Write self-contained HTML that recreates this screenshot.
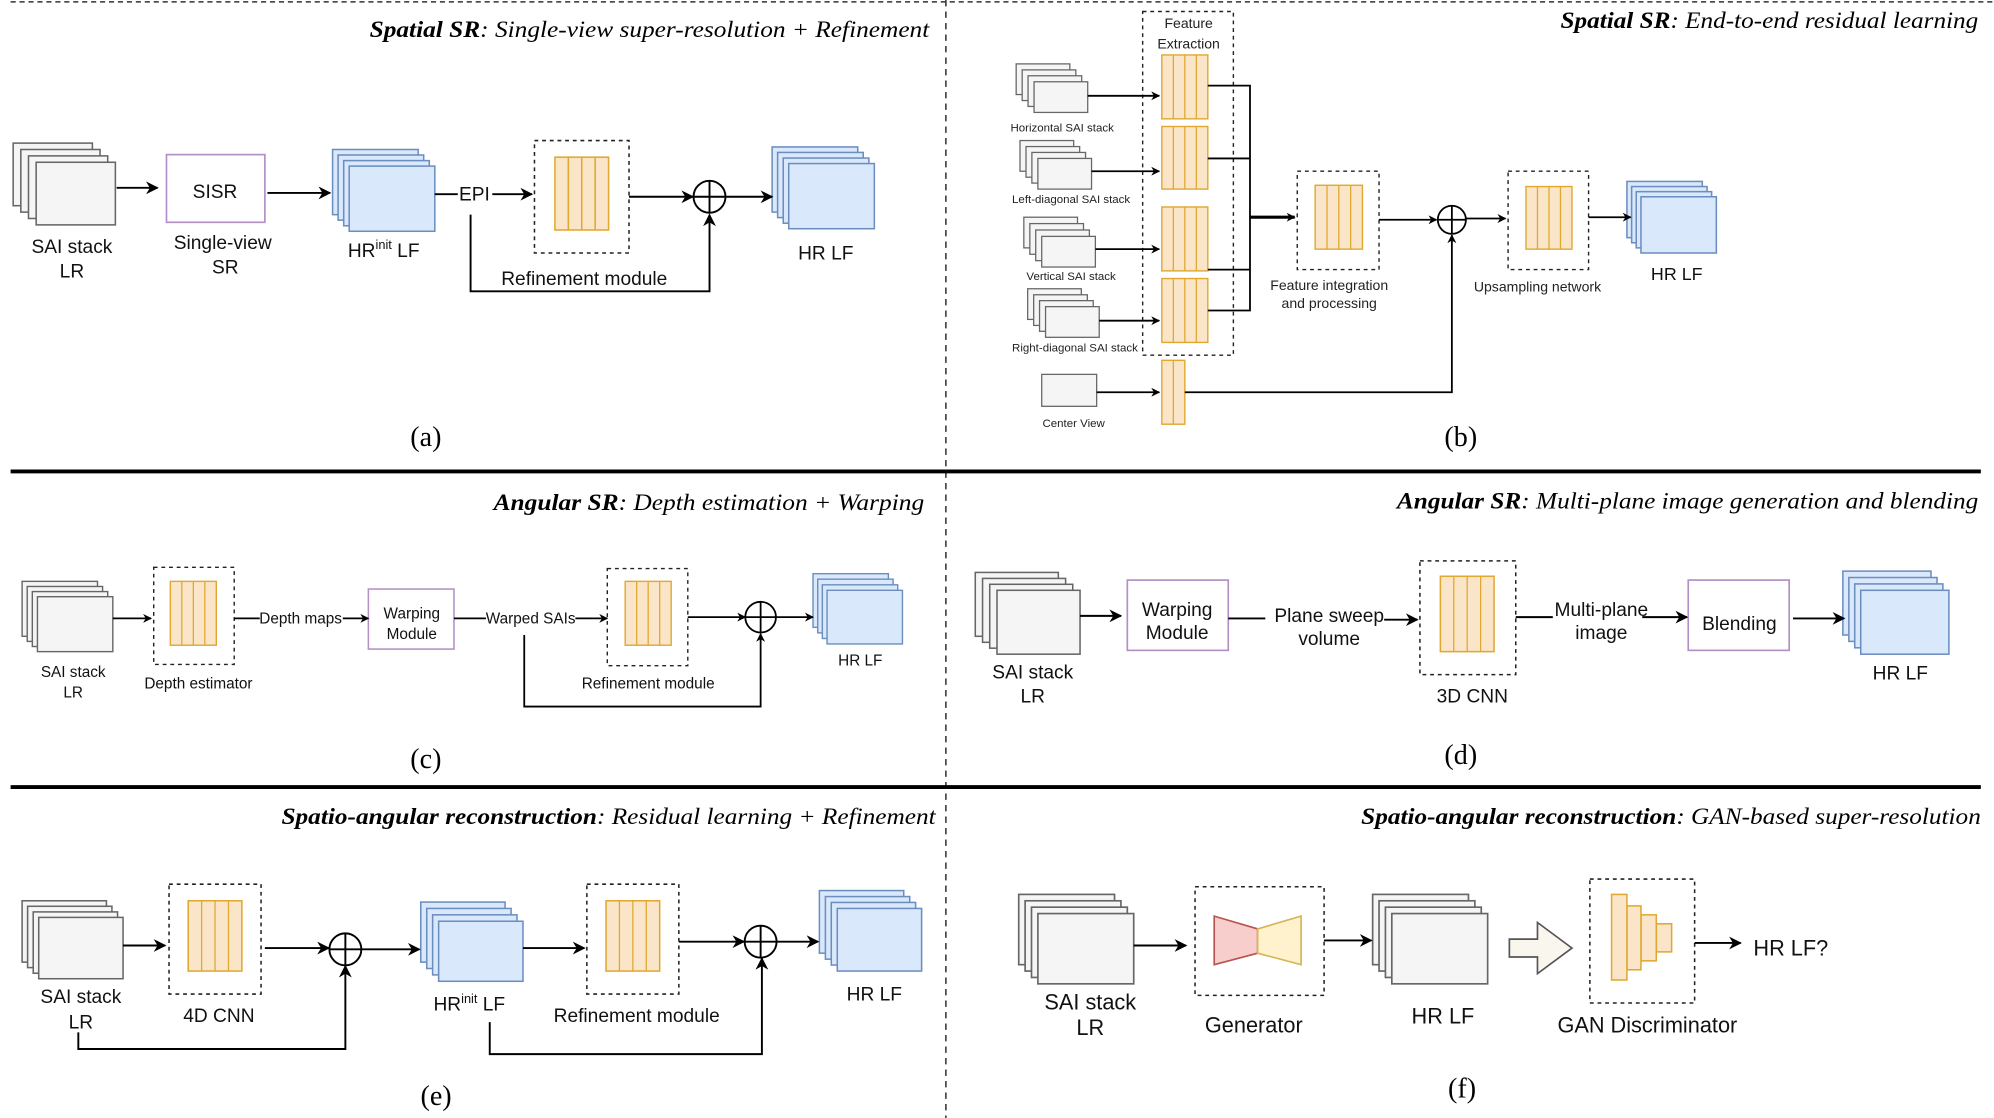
<!DOCTYPE html>
<html><head><meta charset="utf-8"><style>html,body{margin:0;padding:0;background:#fff}svg{display:block}</style></head>
<body>
<svg width="1994" height="1118" viewBox="0 0 1560 875" xmlns="http://www.w3.org/2000/svg" font-family="Liberation Sans, sans-serif">
<defs>
<marker id="ar" viewBox="0 0 10 10" refX="9" refY="5" markerWidth="7" markerHeight="7" orient="auto" markerUnits="userSpaceOnUse"><path d="M0,0 L10,5 L0,10 L3,5 z" fill="#000"/></marker>
<marker id="ar2" viewBox="0 0 10 10" refX="9" refY="5" markerWidth="10" markerHeight="10" orient="auto" markerUnits="userSpaceOnUse"><path d="M0,0 L10,5 L0,10 L3,5 z" fill="#000"/></marker>
</defs>
<rect width="1560" height="875" fill="#fff"/>
<!-- separators -->
<line x1="8" y1="1.5" x2="1560" y2="1.5" stroke="#333" stroke-width="1.2" stroke-dasharray="4,3"/>
<line x1="740" y1="0" x2="740" y2="875" stroke="#333" stroke-width="1.2" stroke-dasharray="5,4"/>
<line x1="8" y1="369" x2="1550" y2="369" stroke="#000" stroke-width="3"/>
<line x1="8" y1="616" x2="1550" y2="616" stroke="#000" stroke-width="3"/>

<g font-family="Liberation Serif, serif" font-style="italic" font-size="18" text-anchor="end">
<text x="727" y="29" textLength="438" lengthAdjust="spacingAndGlyphs"><tspan font-weight="bold">Spatial SR</tspan>: Single-view super-resolution + Refinement</text>
<text x="1548" y="22" textLength="327" lengthAdjust="spacingAndGlyphs"><tspan font-weight="bold">Spatial SR</tspan>: End-to-end residual learning</text>
<text x="723" y="399" textLength="337" lengthAdjust="spacingAndGlyphs"><tspan font-weight="bold">Angular SR</tspan>: Depth estimation + Warping</text>
<text x="1548" y="398" textLength="455" lengthAdjust="spacingAndGlyphs"><tspan font-weight="bold">Angular SR</tspan>: Multi-plane image generation and blending</text>
<text x="732" y="645" textLength="512" lengthAdjust="spacingAndGlyphs"><tspan font-weight="bold">Spatio-angular reconstruction</tspan>: Residual learning + Refinement</text>
<text x="1550" y="645" textLength="485" lengthAdjust="spacingAndGlyphs"><tspan font-weight="bold">Spatio-angular reconstruction</tspan>: GAN-based super-resolution</text>
</g>
<g font-family="Liberation Serif, serif" font-size="22" text-anchor="middle">
<text x="333" y="349">(a)</text><text x="1143" y="349">(b)</text>
<text x="333" y="601">(c)</text><text x="1143" y="598">(d)</text>
<text x="341" y="865">(e)</text><text x="1144" y="859">(f)</text>
</g>

<!-- ===== (a) ===== -->
<g fill="#f5f5f5" stroke="#666" stroke-width="1.2">
<rect x="10" y="112" width="62" height="49"/><rect x="16" y="117" width="62" height="49"/><rect x="22" y="122" width="62" height="49"/><rect x="28" y="127" width="62" height="49"/>
</g>
<g fill="#dae8fc" stroke="#6c8ebf" stroke-width="1.2">
<rect x="260" y="117" width="67" height="51"/><rect x="264.3" y="121.3" width="67" height="51"/><rect x="268.7" y="125.7" width="67" height="51"/><rect x="273" y="130" width="67" height="51"/>
<rect x="604" y="115" width="67" height="51"/><rect x="608.3" y="119.3" width="67" height="51"/><rect x="612.7" y="123.7" width="67" height="51"/><rect x="617" y="128" width="67" height="51"/>
</g>
<rect x="130" y="121" width="77" height="53" fill="#fff" stroke="#b28fc4" stroke-width="1.3"/>
<rect x="418" y="110" width="74" height="88" fill="none" stroke="#222" stroke-width="1.2" stroke-dasharray="3,3"/>
<g stroke="#e0a830" stroke-width="1.2"><rect x="434" y="123" width="42" height="57" fill="#fbe5c8"/><line x1="444.5" y1="123" x2="444.5" y2="180"/><line x1="455" y1="123" x2="455" y2="180"/><line x1="465.5" y1="123" x2="465.5" y2="180"/></g>
<g stroke="#000" stroke-width="1.5" fill="none">
<line x1="91" y1="147" x2="123" y2="147" marker-end="url(#ar2)"/>
<line x1="209" y1="151" x2="258" y2="151" marker-end="url(#ar2)"/>
<line x1="340" y1="152" x2="358" y2="152"/>
<line x1="385" y1="152" x2="416" y2="152" marker-end="url(#ar2)"/>
<line x1="492" y1="154" x2="542" y2="154" marker-end="url(#ar2)"/>
<line x1="568" y1="154" x2="604" y2="154" marker-end="url(#ar2)"/>
<polyline points="368,168 368,228 555,228 555,168" marker-end="url(#ar2)"/>
<circle cx="555" cy="154" r="12.5"/><line x1="542.5" y1="154" x2="567.5" y2="154"/><line x1="555" y1="141.5" x2="555" y2="166.5"/>
</g>
<g font-size="15" text-anchor="middle" fill="#111">
<text x="56" y="198">SAI stack</text><text x="56" y="217">LR</text>
<text x="168" y="155">SISR</text>
<text x="174" y="195">Single-view</text><text x="176" y="214">SR</text>
<text x="300" y="201">HR<tspan font-size="10" dy="-6">init</tspan><tspan dy="6"> LF</tspan></text>
<text x="371" y="157">EPI</text>
<text x="457" y="223">Refinement module</text>
<text x="646" y="203">HR LF</text>
</g>

<!-- ===== (b) ===== -->
<g fill="#f5f5f5" stroke="#666" stroke-width="1">
<rect x="795" y="50" width="42" height="24"/><rect x="799.7" y="54.7" width="42" height="24"/><rect x="804.3" y="59.3" width="42" height="24"/><rect x="809" y="64" width="42" height="24"/>
<rect x="798" y="110" width="42" height="24"/><rect x="802.7" y="114.7" width="42" height="24"/><rect x="807.3" y="119.3" width="42" height="24"/><rect x="812" y="124" width="42" height="24"/>
<rect x="801" y="170" width="42" height="24"/><rect x="805.7" y="175" width="42" height="24"/><rect x="810.3" y="180" width="42" height="24"/><rect x="815" y="185" width="42" height="24"/>
<rect x="804" y="226" width="42" height="24"/><rect x="808.7" y="230.7" width="42" height="24"/><rect x="813.3" y="235.3" width="42" height="24"/><rect x="818" y="240" width="42" height="24"/>
<rect x="815" y="293" width="43" height="25"/>
</g>
<g fill="#dae8fc" stroke="#6c8ebf" stroke-width="1.2">
<rect x="1273" y="142" width="59" height="44"/><rect x="1276.7" y="146" width="59" height="44"/><rect x="1280.3" y="150" width="59" height="44"/><rect x="1284" y="154" width="59" height="44"/>
</g>
<g fill="none" stroke="#222" stroke-width="1.1" stroke-dasharray="3,3">
<rect x="894" y="9" width="71" height="269"/>
<rect x="1015" y="134" width="64" height="77"/>
<rect x="1180" y="134" width="63" height="77"/>
</g>
<g stroke="#e0a830" stroke-width="1.1" fill="#fbe5c8">
<rect x="909" y="43" width="36" height="50"/><rect x="909" y="99" width="36" height="49"/><rect x="909" y="162" width="36" height="50"/><rect x="909" y="218" width="36" height="50"/>
<rect x="1029" y="145" width="37" height="50"/><rect x="1194" y="146" width="36" height="49"/>
<rect x="909" y="282" width="18" height="50"/>
</g>
<g stroke="#e0a830" stroke-width="1">
<path d="M918,43V93M927,43V93M936,43V93M918,99V148M927,99V148M936,99V148M918,162V212M927,162V212M936,162V212M918,218V268M927,218V268M936,218V268M1038.3,145V195M1047.5,145V195M1056.8,145V195M1203,146V195M1212,146V195M1221,146V195M918,282V332"/>
</g>
<g stroke="#000" stroke-width="1.4" fill="none">
<line x1="851" y1="75" x2="907" y2="75" marker-end="url(#ar)"/>
<line x1="854" y1="134" x2="907" y2="134" marker-end="url(#ar)"/>
<line x1="857" y1="195" x2="907" y2="195" marker-end="url(#ar)"/>
<line x1="860" y1="251" x2="907" y2="251" marker-end="url(#ar)"/>
<line x1="858" y1="307" x2="907" y2="307" marker-end="url(#ar)"/>
<polyline points="945,67 978,67 978,243 945,243"/>
<line x1="945" y1="124" x2="978" y2="124"/><line x1="945" y1="211" x2="978" y2="211"/>
<line x1="978" y1="170" x2="1013" y2="170" stroke-width="2.5" marker-end="url(#ar)"/>
<line x1="1079" y1="172" x2="1124" y2="172" marker-end="url(#ar)"/>
<line x1="1147" y1="171" x2="1178" y2="171" marker-end="url(#ar)"/>
<line x1="1243" y1="170" x2="1276" y2="170" marker-end="url(#ar)"/>
<polyline points="927,307 1136,307 1136,184" marker-end="url(#ar)"/>
<circle cx="1136" cy="172" r="11"/><line x1="1125" y1="172" x2="1147" y2="172"/><line x1="1136" y1="161" x2="1136" y2="183"/>
</g>
<g font-size="9" text-anchor="middle" fill="#222">
<text x="831" y="103">Horizontal SAI stack</text>
<text x="838" y="159">Left-diagonal SAI stack</text>
<text x="838" y="219">Vertical SAI stack</text>
<text x="841" y="275">Right-diagonal SAI stack</text>
<text x="840" y="334">Center View</text>
</g>
<g font-size="11" text-anchor="middle" fill="#222">
<text x="930" y="22">Feature</text><text x="930" y="38">Extraction</text>
<text x="1040" y="227">Feature integration</text><text x="1040" y="241">and processing</text>
<text x="1203" y="228">Upsampling network</text>
</g>
<text x="1312" y="219" font-size="14" text-anchor="middle" fill="#111">HR LF</text>

<!-- ===== (c) ===== -->
<g fill="#f5f5f5" stroke="#666" stroke-width="1.1">
<rect x="17" y="455" width="59" height="43"/><rect x="21" y="459" width="59" height="43"/><rect x="25" y="463" width="59" height="43"/><rect x="29" y="467" width="59" height="43"/>
</g>
<g fill="#dae8fc" stroke="#6c8ebf" stroke-width="1.1">
<rect x="636" y="449" width="59" height="42"/><rect x="639.7" y="453.3" width="59" height="42"/><rect x="643.3" y="457.7" width="59" height="42"/><rect x="647" y="462" width="59" height="42"/>
</g>
<rect x="288" y="461" width="67" height="47" fill="#fff" stroke="#b28fc4" stroke-width="1.2"/>
<g fill="none" stroke="#222" stroke-width="1.1" stroke-dasharray="3,3">
<rect x="120" y="444" width="63" height="76"/><rect x="475" y="445" width="63" height="76"/>
</g>
<g stroke="#e0a830" stroke-width="1.1" fill="#fbe5c8">
<rect x="133" y="455" width="36" height="50"/><rect x="489" y="455" width="36" height="50"/>
</g>
<path d="M142,455V505M151,455V505M160,455V505M498,455V505M507,455V505M516,455V505" stroke="#e0a830" stroke-width="1"/>
<g stroke="#000" stroke-width="1.4" fill="none">
<line x1="88" y1="484" x2="118" y2="484" marker-end="url(#ar)"/>
<line x1="183" y1="484" x2="203" y2="484"/>
<line x1="268" y1="484" x2="288" y2="484" marker-end="url(#ar)"/>
<line x1="355" y1="484" x2="380" y2="484"/>
<line x1="450" y1="484" x2="475" y2="484" marker-end="url(#ar)"/>
<line x1="538" y1="483" x2="583" y2="483" marker-end="url(#ar)"/>
<line x1="607" y1="483" x2="636" y2="483" marker-end="url(#ar)"/>
<polyline points="410,497 410,553 595,553 595,496" marker-end="url(#ar)"/>
<circle cx="595" cy="483" r="12"/><line x1="583" y1="483" x2="607" y2="483"/><line x1="595" y1="471" x2="595" y2="495"/>
</g>
<g font-size="12" text-anchor="middle" fill="#111">
<text x="57" y="530">SAI stack</text><text x="57" y="546">LR</text>
<text x="155" y="539">Depth estimator</text>
<text x="235" y="488">Depth maps</text>
<text x="322" y="484">Warping</text><text x="322" y="500">Module</text>
<text x="415" y="488">Warped SAIs</text>
<text x="507" y="539">Refinement module</text>
<text x="673" y="521">HR LF</text>
</g>

<!-- ===== (d) ===== -->
<g fill="#f5f5f5" stroke="#666" stroke-width="1.2">
<rect x="763" y="448" width="65" height="50"/><rect x="768.7" y="452.7" width="65" height="50"/><rect x="774.3" y="457.3" width="65" height="50"/><rect x="780" y="462" width="65" height="50"/>
</g>
<g fill="#dae8fc" stroke="#6c8ebf" stroke-width="1.2">
<rect x="1442" y="447" width="69" height="50"/><rect x="1446.7" y="452" width="69" height="50"/><rect x="1451.3" y="457" width="69" height="50"/><rect x="1456" y="462" width="69" height="50"/>
</g>
<g fill="#fff" stroke="#b28fc4" stroke-width="1.3">
<rect x="882" y="454" width="79" height="55"/><rect x="1321" y="454" width="79" height="55"/>
</g>
<rect x="1111" y="439" width="75" height="89" fill="none" stroke="#222" stroke-width="1.2" stroke-dasharray="3,3"/>
<rect x="1127" y="451" width="42" height="59" fill="#fbe5c8" stroke="#e0a830" stroke-width="1.2"/>
<path d="M1137.5,451V510M1148,451V510M1158.5,451V510" stroke="#e0a830" stroke-width="1"/>
<g stroke="#000" stroke-width="1.5" fill="none">
<line x1="845" y1="482" x2="877" y2="482" marker-end="url(#ar2)"/>
<line x1="961" y1="484" x2="990" y2="484"/>
<line x1="1083" y1="485" x2="1109" y2="485" marker-end="url(#ar2)"/>
<line x1="1186" y1="483" x2="1215" y2="483"/>
<line x1="1285" y1="483" x2="1320" y2="483" marker-end="url(#ar2)"/>
<line x1="1403" y1="484" x2="1443" y2="484" marker-end="url(#ar2)"/>
</g>
<g font-size="15" text-anchor="middle" fill="#111">
<text x="808" y="531">SAI stack</text><text x="808" y="550">LR</text>
<text x="921" y="482">Warping</text><text x="921" y="500">Module</text>
<text x="1040" y="487">Plane sweep</text><text x="1040" y="505">volume</text>
<text x="1152" y="550">3D CNN</text>
<text x="1253" y="482">Multi-plane</text><text x="1253" y="500">image</text>
<text x="1361" y="493">Blending</text>
<text x="1487" y="532">HR LF</text>
</g>

<!-- ===== (e) ===== -->
<g fill="#f5f5f5" stroke="#666" stroke-width="1.2">
<rect x="17" y="705" width="66" height="48"/><rect x="21.3" y="709.3" width="66" height="48"/><rect x="25.7" y="713.7" width="66" height="48"/><rect x="30" y="718" width="66" height="48"/>
</g>
<g fill="#dae8fc" stroke="#6c8ebf" stroke-width="1.2">
<rect x="329" y="706" width="66" height="47"/><rect x="333.7" y="711" width="66" height="47"/><rect x="338.3" y="716" width="66" height="47"/><rect x="343" y="721" width="66" height="47"/>
<rect x="641" y="697" width="66" height="49"/><rect x="645.7" y="701.7" width="66" height="49"/><rect x="650.3" y="706.3" width="66" height="49"/><rect x="655" y="711" width="66" height="49"/>
</g>
<g fill="none" stroke="#222" stroke-width="1.2" stroke-dasharray="3,3">
<rect x="132" y="692" width="72" height="86"/><rect x="459" y="692" width="72" height="86"/>
</g>
<g stroke="#e0a830" stroke-width="1.2" fill="#fbe5c8">
<rect x="147" y="705" width="42" height="55"/><rect x="474" y="705" width="42" height="55"/>
</g>
<path d="M157.5,705V760M168,705V760M178.5,705V760M484.5,705V760M495,705V760M505.5,705V760" stroke="#e0a830" stroke-width="1"/>
<g stroke="#000" stroke-width="1.5" fill="none">
<line x1="96" y1="740" x2="129" y2="740" marker-end="url(#ar2)"/>
<line x1="207" y1="742" x2="257" y2="742" marker-end="url(#ar2)"/>
<line x1="283" y1="743" x2="328" y2="743" marker-end="url(#ar2)"/>
<line x1="409" y1="742" x2="457" y2="742" marker-end="url(#ar2)"/>
<line x1="531" y1="737" x2="582" y2="737" marker-end="url(#ar2)"/>
<line x1="607" y1="737" x2="640" y2="737" marker-end="url(#ar2)"/>
<polyline points="61,808 61,821 270,821 270,756" marker-end="url(#ar2)"/>
<polyline points="383,800 383,825 596,825 596,750" marker-end="url(#ar2)"/>
<circle cx="270" cy="743" r="12.5"/><line x1="257.5" y1="743" x2="282.5" y2="743"/><line x1="270" y1="730.5" x2="270" y2="755.5"/>
<circle cx="595" cy="737" r="12.5"/><line x1="582.5" y1="737" x2="607.5" y2="737"/><line x1="595" y1="724.5" x2="595" y2="749.5"/>
</g>
<g font-size="15" text-anchor="middle" fill="#111">
<text x="63" y="785">SAI stack</text><text x="63" y="805">LR</text>
<text x="171" y="800">4D CNN</text>
<text x="367" y="791">HR<tspan font-size="10" dy="-6">init</tspan><tspan dy="6"> LF</tspan></text>
<text x="498" y="800">Refinement module</text>
<text x="684" y="783">HR LF</text>
</g>

<!-- ===== (f) ===== -->
<g fill="#f5f5f5" stroke="#666" stroke-width="1.3">
<rect x="797" y="700" width="75" height="55"/><rect x="802" y="705" width="75" height="55"/><rect x="807" y="710" width="75" height="55"/><rect x="812" y="715" width="75" height="55"/>
<rect x="1074" y="700" width="75" height="55"/><rect x="1079" y="705" width="75" height="55"/><rect x="1084" y="710" width="75" height="55"/><rect x="1089" y="715" width="75" height="55"/>
</g>
<g fill="none" stroke="#222" stroke-width="1.2" stroke-dasharray="3,3">
<rect x="935" y="694" width="101" height="85"/><rect x="1244" y="688" width="82" height="97"/>
</g>
<polygon points="950,717 984,727 984,746 950,755" fill="#f8cecc" stroke="#b85450" stroke-width="1.3"/>
<polygon points="984,727 1018,717 1018,755 984,746" fill="#fff2cc" stroke="#d6b656" stroke-width="1.3"/>
<polygon points="1181,735 1203,735 1203,722 1230,742 1203,762 1203,749 1181,749" fill="#f9f7ed" stroke="#555" stroke-width="1.3"/>
<g fill="#fbe5c8" stroke="#e0a830" stroke-width="1.2">
<rect x="1296" y="723" width="12" height="22"/>
<rect x="1284" y="716" width="12" height="36"/>
<rect x="1273" y="709" width="11" height="50"/>
<rect x="1261" y="700" width="12" height="67"/>
</g>
<g stroke="#000" stroke-width="1.5" fill="none">
<line x1="887" y1="740" x2="928" y2="740" marker-end="url(#ar2)"/>
<line x1="1036" y1="736" x2="1073" y2="736" marker-end="url(#ar2)"/>
<line x1="1326" y1="738" x2="1362" y2="738" marker-end="url(#ar2)"/>
</g>
<g font-size="17" text-anchor="middle" fill="#111">
<text x="853" y="790">SAI stack</text><text x="853" y="810">LR</text>
<text x="981" y="808">Generator</text>
<text x="1129" y="801">HR LF</text>
<text x="1289" y="808">GAN Discriminator</text>
<text x="1372" y="748" text-anchor="start">HR LF?</text>
</g>
</svg>
</body></html>
